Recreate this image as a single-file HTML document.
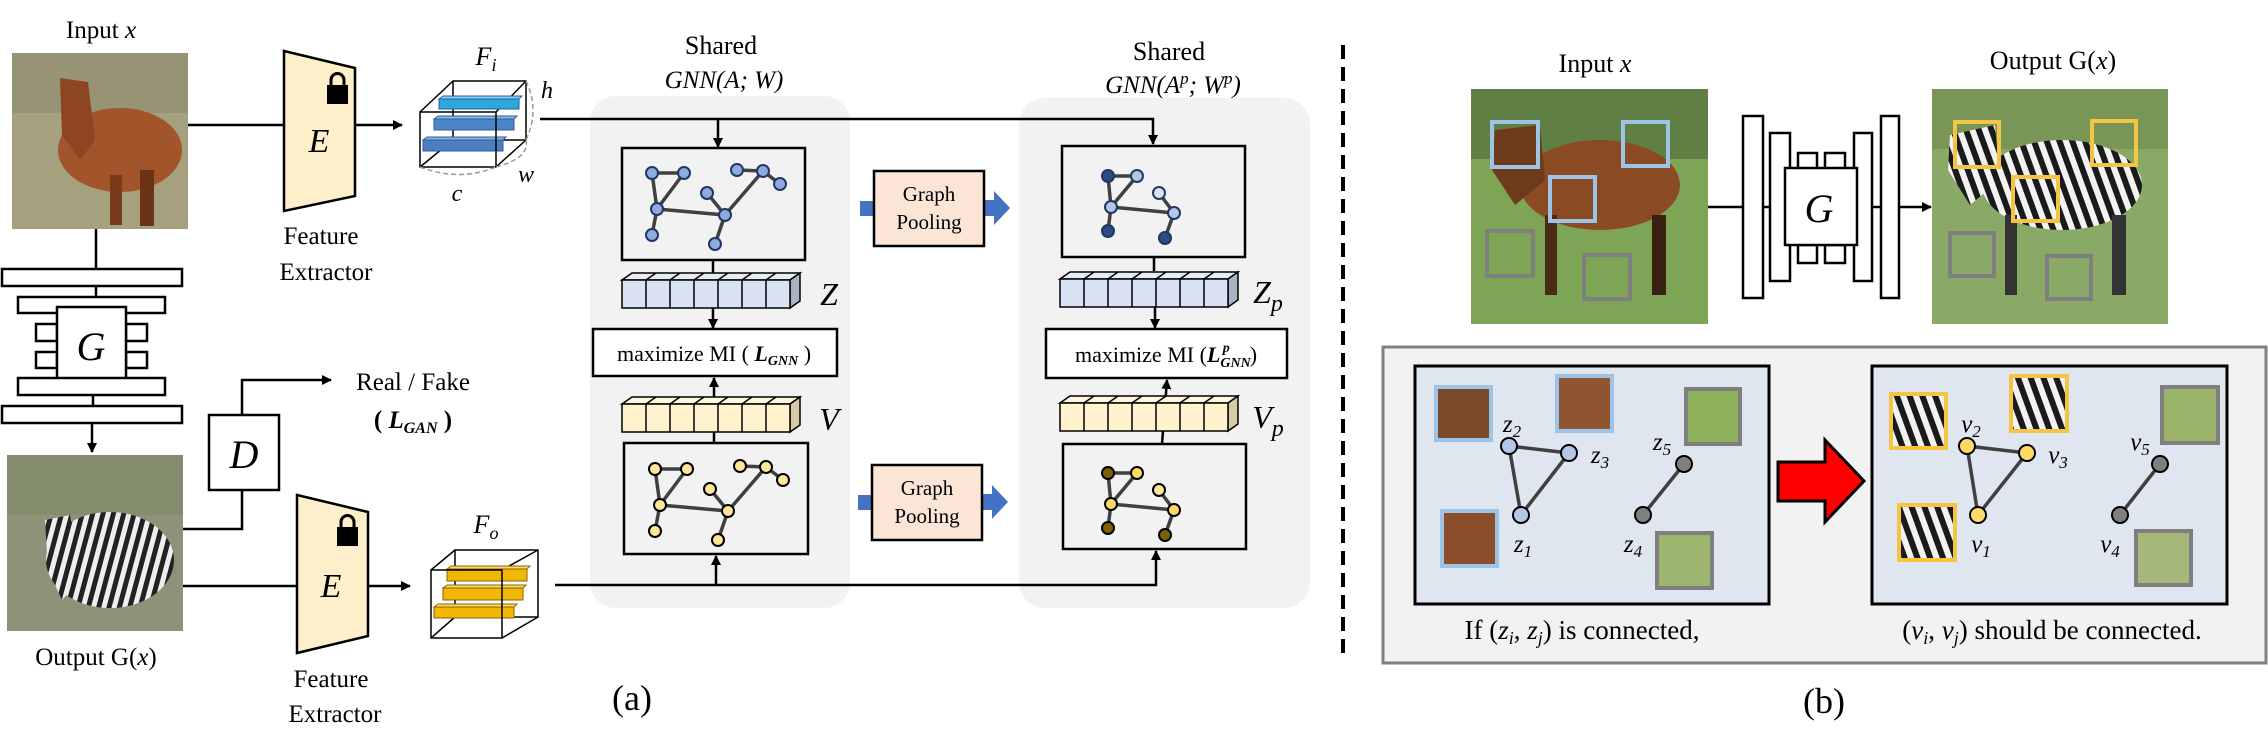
<!DOCTYPE html>
<html><head><meta charset="utf-8"><style>
html,body{margin:0;padding:0;background:#fff;}
svg{display:block;font-family:"Liberation Serif","DejaVu Serif",serif;}
svg text{font-family:"Liberation Serif","DejaVu Serif",serif;fill:#000;}
.it{font-style:italic;}
</style></head><body>
<svg width="2268" height="750" viewBox="0 0 2268 750" xmlns="http://www.w3.org/2000/svg">
<defs>
<marker id="ar" markerWidth="10" markerHeight="10" refX="9" refY="5" orient="auto" markerUnits="userSpaceOnUse"><path d="M0,0 L10,5 L0,10 z" fill="#000"/></marker>
<pattern id="zs" width="10" height="10" patternUnits="userSpaceOnUse" patternTransform="rotate(15)"><rect width="10" height="10" fill="#eee"/><rect width="5" height="10" fill="#222"/></pattern>
<pattern id="zs2" width="12" height="12" patternUnits="userSpaceOnUse" patternTransform="rotate(-20)"><rect width="12" height="12" fill="#f2f2f2"/><rect width="6" height="12" fill="#1a1a1a"/></pattern>
</defs>
<g>
<text x="101" y="38" font-size="25" text-anchor="middle">Input <tspan class="it">x</tspan></text>
<rect x="12" y="53" width="176" height="176" fill="#a5a07e"/>
<rect x="12" y="53" width="176" height="60" fill="#8c8c70" opacity="0.6"/>
<ellipse cx="120" cy="150" rx="62" ry="42" fill="#a2542a"/>
<path d="M60,78 L88,82 L95,140 L80,160 L62,135 Z" fill="#8e4522"/>
<rect x="140" y="170" width="14" height="56" fill="#6b3418"/>
<rect x="110" y="175" width="12" height="50" fill="#7a3a1c"/>

<line x1="96" y1="229" x2="96" y2="269" stroke="#000" stroke-width="2.5"/>
<g fill="#fff" stroke="#000" stroke-width="2.5">
<rect x="2" y="269" width="180" height="17"/>
<rect x="18" y="297" width="147" height="16"/>
<rect x="36" y="324" width="21" height="17"/><rect x="36" y="352" width="21" height="16"/>
<rect x="126" y="324" width="21" height="17"/><rect x="126" y="352" width="21" height="16"/>
<rect x="57" y="307" width="69" height="77"/>
<rect x="18" y="378" width="147" height="17"/>
<rect x="2" y="406" width="180" height="17"/>
</g>
<line x1="96" y1="286" x2="96" y2="297" stroke="#000" stroke-width="2.5"/>
<line x1="93" y1="395" x2="93" y2="406" stroke="#000" stroke-width="2.5"/>
<text x="91" y="360" font-size="40" class="it" text-anchor="middle">G</text>
<line x1="92" y1="423" x2="92" y2="452" stroke="#000" stroke-width="2.5" marker-end="url(#ar)"/>

<rect x="7" y="455" width="176" height="176" fill="#8e9278"/>
<rect x="7" y="455" width="176" height="60" fill="#7c8a66" opacity="0.6"/>
<ellipse cx="110" cy="560" rx="64" ry="48" fill="url(#zs)"/>
<path d="M45,520 L70,515 L80,580 L62,600 L48,570 Z" fill="url(#zs)"/>
<text x="96" y="665" font-size="25" text-anchor="middle">Output G(<tspan class="it">x</tspan>)</text>

<line x1="188" y1="125" x2="284" y2="125" stroke="#000" stroke-width="2.5"/>
<polygon points="284,51 355,68 355,196 284,211" fill="#fdefc9" stroke="#000" stroke-width="2.5"/>
<rect x="327" y="85" width="21" height="19" fill="#000"/><path d="M331,86 v-6 a6.5,6.5 0 0 1 13,0 v6" fill="none" stroke="#000" stroke-width="3"/>
<text x="319" y="152" font-size="34" class="it" text-anchor="middle">E</text>
<text x="321" y="244" font-size="25" text-anchor="middle">Feature</text>
<text x="326" y="280" font-size="25" text-anchor="middle">Extractor</text>
<line x1="355" y1="125" x2="402" y2="125" stroke="#000" stroke-width="2.5" marker-end="url(#ar)"/>

<g stroke="#000" stroke-width="1.5" fill="none">
<rect x="453" y="81" width="73" height="59"/>
<line x1="420" y1="112" x2="453" y2="81"/><line x1="496" y1="112" x2="526" y2="81"/><line x1="496" y1="167" x2="526" y2="140"/><line x1="420" y1="167" x2="453" y2="140"/>
</g>
<g stroke="#2e5e9e" stroke-width="1">
<rect x="439" y="99" width="80" height="10" fill="#2ea7e0"/><polygon points="439,99 443,96 522,96 519,99" fill="#7fd0f5"/>
<rect x="434" y="119" width="80" height="11" fill="#4a86c8"/><polygon points="434,119 438,116 517,116 514,119" fill="#8fb6e3"/>
<rect x="423" y="140" width="80" height="11" fill="#4a7fc0"/><polygon points="423,140 427,137 506,137 503,140" fill="#8fb0e0"/>
</g>
<rect x="420" y="112" width="76" height="55" fill="none" stroke="#000" stroke-width="1.5"/>
<path d="M420,167 Q460,182 496,167" fill="none" stroke="#999" stroke-width="1.5" stroke-dasharray="5,3"/>
<path d="M496,167 Q530,158 526,140" fill="none" stroke="#999" stroke-width="1.5" stroke-dasharray="5,3"/>
<path d="M526,81 Q540,110 526,140" fill="none" stroke="#999" stroke-width="1.5" stroke-dasharray="5,3"/>
<text x="486" y="65" font-size="26" class="it" text-anchor="middle">F<tspan font-size="18" dy="6">i</tspan></text>
<text x="547" y="98" font-size="24" class="it" text-anchor="middle">h</text>
<text x="526" y="182" font-size="24" class="it" text-anchor="middle">w</text>
<text x="457" y="201" font-size="24" class="it" text-anchor="middle">c</text>

<polyline points="183,529 242,529 242,490" fill="none" stroke="#000" stroke-width="2.5"/>
<rect x="209" y="415" width="70" height="75" fill="#fff" stroke="#000" stroke-width="2.5"/>
<text x="244" y="468" font-size="40" class="it" text-anchor="middle">D</text>
<polyline points="242,415 242,380 331,380" fill="none" stroke="#000" stroke-width="2.5" marker-end="url(#ar)"/>
<text x="413" y="390" font-size="25" text-anchor="middle">Real / Fake</text>
<text x="413" y="428" font-size="25" text-anchor="middle" font-weight="bold">( <tspan class="it">L</tspan><tspan class="it" font-size="16" dy="5">GAN</tspan><tspan dy="-5"> )</tspan></text>

<line x1="183" y1="586" x2="297" y2="586" stroke="#000" stroke-width="2.5"/>
<polygon points="297,495 368,512 368,636 297,653" fill="#fdefc9" stroke="#000" stroke-width="2.5"/>
<rect x="337" y="527" width="21" height="19" fill="#000"/><path d="M341,528 v-6 a6.5,6.5 0 0 1 13,0 v6" fill="none" stroke="#000" stroke-width="3"/>
<text x="331" y="597" font-size="34" class="it" text-anchor="middle">E</text>
<text x="331" y="687" font-size="25" text-anchor="middle">Feature</text>
<text x="335" y="722" font-size="25" text-anchor="middle">Extractor</text>
<line x1="368" y1="586" x2="410" y2="586" stroke="#000" stroke-width="2.5" marker-end="url(#ar)"/>

<g stroke="#000" stroke-width="1.5" fill="none">
<rect x="455" y="550" width="83" height="67"/>
<line x1="431" y1="570" x2="455" y2="550"/><line x1="502" y1="570" x2="538" y2="550"/><line x1="502" y1="638" x2="538" y2="617"/><line x1="431" y1="638" x2="455" y2="617"/>
</g>
<g stroke="#8a6500" stroke-width="1">
<rect x="447" y="569" width="80" height="12" fill="#f2b705"/><polygon points="447,569 451,566 530,566 527,569" fill="#ffd966"/>
<rect x="443" y="588" width="80" height="12" fill="#f2b705"/><polygon points="443,588 447,585 526,585 523,588" fill="#ffd966"/>
<rect x="434" y="607" width="80" height="11" fill="#f2b705"/><polygon points="434,607 438,604 517,604 514,607" fill="#ffd966"/>
</g>
<rect x="431" y="570" width="71" height="68" fill="none" stroke="#000" stroke-width="1.5"/>
<text x="486" y="533" font-size="26" class="it" text-anchor="middle">F<tspan font-size="18" dy="6">o</tspan></text>

<rect x="590" y="96" width="260" height="512" rx="26" fill="#f2f2f2"/>
<rect x="1019" y="98" width="291" height="510" rx="26" fill="#f2f2f2"/>
<text x="721" y="54" font-size="26" text-anchor="middle">Shared</text>
<text x="724" y="88" font-size="25" class="it" text-anchor="middle">GNN(A; W)</text>
<text x="1169" y="60" font-size="26" text-anchor="middle">Shared</text>
<text x="1173" y="93" font-size="25" class="it" text-anchor="middle">GNN(A<tspan font-size="17" dy="-9">p</tspan><tspan dy="9">; W</tspan><tspan font-size="17" dy="-9">p</tspan><tspan dy="9">)</tspan></text>

<polyline points="540,119 1153,119 1153,144" fill="none" stroke="#000" stroke-width="2.5" marker-end="url(#ar)"/>
<line x1="718" y1="119" x2="718" y2="147" stroke="#000" stroke-width="2.5" marker-end="url(#ar)"/>
<polyline points="555,585 1156,585 1156,551" fill="none" stroke="#000" stroke-width="2.5" marker-end="url(#ar)"/>
<line x1="716" y1="585" x2="716" y2="556" stroke="#000" stroke-width="2.5" marker-end="url(#ar)"/>

<g fill="#f2f2f2" stroke="#000" stroke-width="2.5">
<rect x="622" y="148" width="183" height="112"/>
<rect x="624" y="443" width="184" height="111"/>
<rect x="1062" y="146" width="183" height="111"/>
<rect x="1063" y="444" width="183" height="105"/>
</g>
<g id="g1">
<g stroke="#404040" stroke-width="3.5">
<line x1="652" y1="173" x2="684" y2="173"/><line x1="652" y1="173" x2="657" y2="209"/><line x1="684" y1="173" x2="657" y2="209"/>
<line x1="657" y1="209" x2="652" y2="235"/><line x1="657" y1="209" x2="725" y2="215"/><line x1="707" y1="193" x2="725" y2="215"/>
<line x1="725" y1="215" x2="715" y2="244"/><line x1="725" y1="215" x2="763" y2="171"/><line x1="737" y1="170" x2="763" y2="171"/><line x1="763" y1="171" x2="780" y2="184"/>
</g>
</g>
<g fill="#8faadc" stroke="#1f3864" stroke-width="2">
<circle cx="652" cy="173" r="6"/><circle cx="684" cy="173" r="6"/><circle cx="657" cy="209" r="6"/><circle cx="652" cy="235" r="6"/><circle cx="707" cy="193" r="6"/><circle cx="725" cy="215" r="6"/><circle cx="715" cy="244" r="6"/><circle cx="737" cy="170" r="6"/><circle cx="763" cy="171" r="6"/><circle cx="780" cy="184" r="6"/>
</g>
<g transform="translate(3,296)">
<use href="#g1"/>
<g fill="#ffe699" stroke="#000" stroke-width="2">
<circle cx="652" cy="173" r="6"/><circle cx="684" cy="173" r="6"/><circle cx="657" cy="209" r="6"/><circle cx="652" cy="235" r="6"/><circle cx="707" cy="193" r="6"/><circle cx="725" cy="215" r="6"/><circle cx="715" cy="244" r="6"/><circle cx="737" cy="170" r="6"/><circle cx="763" cy="171" r="6"/><circle cx="780" cy="184" r="6"/>
</g></g>
<g id="g3"><g stroke="#404040" stroke-width="3.5">
<line x1="1108" y1="176" x2="1137" y2="176"/><line x1="1108" y1="176" x2="1111" y2="207"/><line x1="1137" y1="176" x2="1111" y2="207"/>
<line x1="1111" y1="207" x2="1108" y2="231"/><line x1="1111" y1="207" x2="1174" y2="213"/><line x1="1159" y1="193" x2="1174" y2="213"/><line x1="1174" y1="213" x2="1165" y2="238"/>
</g></g>
<g stroke="#1f3864" stroke-width="2">
<circle cx="1108" cy="176" r="6" fill="#2f4b85"/><circle cx="1137" cy="176" r="6" fill="#b4c7e7"/><circle cx="1111" cy="207" r="6" fill="#b4c7e7"/><circle cx="1108" cy="231" r="6" fill="#2f4b85"/><circle cx="1159" cy="193" r="6" fill="#dae3f3"/><circle cx="1174" cy="213" r="6" fill="#b4c7e7"/><circle cx="1165" cy="238" r="6" fill="#2f4b85"/>
</g>
<g transform="translate(0,297)"><use href="#g3"/>
<g stroke="#000" stroke-width="2">
<circle cx="1108" cy="176" r="6" fill="#7f6000"/><circle cx="1137" cy="176" r="6" fill="#ffd966"/><circle cx="1111" cy="207" r="6" fill="#ffd966"/><circle cx="1108" cy="231" r="6" fill="#7f6000"/><circle cx="1159" cy="193" r="6" fill="#ffe699"/><circle cx="1174" cy="213" r="6" fill="#ffd966"/><circle cx="1165" cy="238" r="6" fill="#7f6000"/>
</g></g>

<g stroke="#000" stroke-width="2.5">
<line x1="713" y1="260" x2="713" y2="273"/>
<line x1="1154" y1="257" x2="1154" y2="271"/>
<line x1="714" y1="432" x2="714" y2="443"/>
</g>
<line x1="713" y1="300" x2="713" y2="328" stroke="#000" stroke-width="2.5" marker-end="url(#ar)"/>
<line x1="1155" y1="300" x2="1155" y2="328" stroke="#000" stroke-width="2.5" marker-end="url(#ar)"/>
<line x1="714" y1="404" x2="714" y2="378" stroke="#000" stroke-width="2.5" marker-end="url(#ar)"/>
<line x1="1162" y1="444" x2="1167" y2="380" stroke="#000" stroke-width="2.5" marker-end="url(#ar)"/>

<g id="zb" stroke="#000" stroke-width="1.5">
<polygon points="622,280 632,273 800,273 790,280" fill="#e6edf7"/>
<polygon points="790,280 800,273 800,301 790,308" fill="#aab4c4"/>
<rect x="622" y="280" width="168" height="28" fill="#dae3f3"/>
<path d="M646,280v28M670,280v28M694,280v28M718,280v28M742,280v28M766,280v28M656,273l-10,7M680,273l-10,7M704,273l-10,7M728,273l-10,7M752,273l-10,7M776,273l-10,7" fill="none"/>
</g>
<g id="vb" stroke="#000" stroke-width="1.5" transform="translate(0,124)">
<polygon points="622,280 632,273 800,273 790,280" fill="#fff7dd"/>
<polygon points="790,280 800,273 800,301 790,308" fill="#d6cba6"/>
<rect x="622" y="280" width="168" height="28" fill="#fff2cc"/>
<path d="M646,280v28M670,280v28M694,280v28M718,280v28M742,280v28M766,280v28M656,273l-10,7M680,273l-10,7M704,273l-10,7M728,273l-10,7M752,273l-10,7M776,273l-10,7" fill="none"/>
</g>
<use href="#zb" transform="translate(438,-1)"/>
<use href="#vb" transform="translate(438,-1)"/>
<text x="829" y="305" font-size="32" class="it" text-anchor="middle">Z</text>
<text x="829" y="430" font-size="32" class="it" text-anchor="middle">V</text>
<text x="1268" y="303" font-size="32" class="it" text-anchor="middle">Z<tspan font-size="24" dy="8">p</tspan></text>
<text x="1268" y="428" font-size="32" class="it" text-anchor="middle">V<tspan font-size="24" dy="8">p</tspan></text>

<rect x="593" y="329" width="244" height="47" fill="#fff" stroke="#000" stroke-width="2.5"/>
<text x="714" y="361" font-size="22" text-anchor="middle">maximize MI ( <tspan class="it" font-weight="bold">L</tspan><tspan class="it" font-weight="bold" font-size="14" dy="4">GNN</tspan><tspan dy="-4"> )</tspan></text>
<rect x="1046" y="329" width="241" height="49" fill="#fff" stroke="#000" stroke-width="2.5"/>
<text x="1166" y="362" font-size="22" text-anchor="middle">maximize MI (<tspan class="it" font-weight="bold">L</tspan><tspan class="it" font-weight="bold" font-size="14" dy="5">GNN</tspan><tspan class="it" font-weight="bold" font-size="14" dx="-28" dy="-15">p</tspan><tspan dx="20" dy="10">)</tspan></text>

<g id="gp">
<polygon points="860,201 874,201 874,216 860,216" fill="#4472c4"/>
<polygon points="984,200 994,200 994,191 1010,208 994,225 994,216 984,216" fill="#4472c4"/>
<rect x="874" y="171" width="110" height="75" fill="#fbe5d6" stroke="#000" stroke-width="2.5"/>
<text x="929" y="201" font-size="21" text-anchor="middle">Graph</text>
<text x="929" y="229" font-size="21" text-anchor="middle">Pooling</text>
</g>
<use href="#gp" transform="translate(-2,294)"/>

<text x="632" y="710" font-size="36" text-anchor="middle">(a)</text>

<line x1="1343" y1="45" x2="1343" y2="653" stroke="#000" stroke-width="4" stroke-dasharray="14,8"/>
<text x="1595" y="72" font-size="26" text-anchor="middle">Input <tspan class="it">x</tspan></text>
<text x="2053" y="69" font-size="26" text-anchor="middle">Output G(<tspan class="it">x</tspan>)</text>
<rect x="1471" y="89" width="237" height="235" fill="#7ea456"/>
<rect x="1471" y="89" width="237" height="70" fill="#5f7f44"/>
<ellipse cx="1600" cy="185" rx="80" ry="45" fill="#8a4b24"/>
<path d="M1495,130 L1540,125 L1545,180 L1515,205 L1492,170 Z" fill="#6e3a1c"/>
<rect x="1545" y="215" width="12" height="80" fill="#4a2a14"/><rect x="1652" y="215" width="14" height="80" fill="#3a2010"/>
<g fill="none" stroke-width="4">
<rect x="1492" y="122" width="46" height="45" stroke="#9dc3e6"/>
<rect x="1623" y="122" width="45" height="44" stroke="#9dc3e6"/>
<rect x="1550" y="177" width="45" height="44" stroke="#9dc3e6"/>
<rect x="1487" y="231" width="46" height="45" stroke="#7f7f7f"/>
<rect x="1584" y="255" width="46" height="44" stroke="#7f7f7f"/>
</g>

<line x1="1708" y1="207" x2="1743" y2="207" stroke="#000" stroke-width="2.5"/>
<g fill="#fff" stroke="#000" stroke-width="2.5">
<rect x="1743" y="116" width="20" height="182"/>
<rect x="1770" y="133" width="20" height="148"/>
<rect x="1881" y="116" width="18" height="182"/>
<rect x="1854" y="133" width="18" height="148"/>
<rect x="1798" y="153" width="19" height="16"/><rect x="1825" y="153" width="20" height="16"/>
<rect x="1798" y="245" width="19" height="18"/><rect x="1825" y="245" width="20" height="18"/>
<rect x="1785" y="168" width="72" height="77"/>
</g>
<line x1="1763" y1="207" x2="1770" y2="207" stroke="#000" stroke-width="2.5"/>
<line x1="1872" y1="207" x2="1881" y2="207" stroke="#000" stroke-width="2.5"/>
<text x="1819" y="222" font-size="40" class="it" text-anchor="middle">G</text>
<line x1="1899" y1="207" x2="1931" y2="207" stroke="#000" stroke-width="2.5" marker-end="url(#ar)"/>

<rect x="1932" y="89" width="236" height="235" fill="#8aa866"/>
<rect x="1932" y="89" width="236" height="60" fill="#7a9656"/>
<ellipse cx="2062" cy="185" rx="80" ry="45" fill="url(#zs2)"/>
<path d="M1950,135 L1995,125 L2000,180 L1970,205 L1948,170 Z" fill="url(#zs2)"/>
<rect x="2005" y="215" width="12" height="80" fill="#333"/><rect x="2112" y="215" width="14" height="80" fill="#333"/>
<g fill="none" stroke-width="4">
<rect x="1955" y="122" width="44" height="45" stroke="#f4c542"/>
<rect x="2092" y="121" width="44" height="44" stroke="#f4c542"/>
<rect x="2013" y="177" width="45" height="44" stroke="#f4c542"/>
<rect x="1950" y="233" width="44" height="43" stroke="#7f7f7f"/>
<rect x="2047" y="256" width="44" height="43" stroke="#7f7f7f"/>
</g>

<rect x="1383" y="347" width="883" height="316" fill="#f2f2f2" stroke="#808080" stroke-width="3"/>
<rect x="1415" y="366" width="354" height="238" fill="#dfe6f0" stroke="#000" stroke-width="3"/>
<rect x="1872" y="366" width="355" height="238" fill="#dfe6f0" stroke="#000" stroke-width="3"/>
<polygon points="1778,462 1825,462 1825,440 1864,481 1825,522 1825,501 1778,501" fill="#ff0000" stroke="#000" stroke-width="3"/>

<rect x="1436" y="387" width="55" height="53" fill="#7a4a2a" stroke="#9dc3e6" stroke-width="4"/>
<rect x="1557" y="376" width="55" height="55" fill="#8e5530" stroke="#9dc3e6" stroke-width="4"/>
<rect x="1442" y="511" width="55" height="55" fill="#8a4e2a" stroke="#9dc3e6" stroke-width="4"/>
<rect x="1686" y="389" width="54" height="55" fill="#8fb05a" stroke="#7f7f7f" stroke-width="4"/>
<rect x="1657" y="533" width="55" height="55" fill="#9cb56e" stroke="#7f7f7f" stroke-width="4"/>
<g stroke="#404040" stroke-width="3.5">
<line x1="1509" y1="446" x2="1569" y2="453"/><line x1="1509" y1="446" x2="1521" y2="515"/><line x1="1569" y1="453" x2="1521" y2="515"/><line x1="1684" y1="464" x2="1643" y2="515"/>
</g>
<g stroke="#000" stroke-width="2">
<circle cx="1509" cy="446" r="8" fill="#b4c7e7"/><circle cx="1569" cy="453" r="8" fill="#b4c7e7"/><circle cx="1521" cy="515" r="8" fill="#b4c7e7"/><circle cx="1684" cy="464" r="8" fill="#7f7f7f"/><circle cx="1643" cy="515" r="8" fill="#7f7f7f"/>
</g>
<g font-size="25" text-anchor="middle">
<text x="1512" y="432" class="it">z<tspan font-size="17" dy="5">2</tspan></text>
<text x="1600" y="463" class="it">z<tspan font-size="17" dy="5">3</tspan></text>
<text x="1523" y="552" class="it">z<tspan font-size="17" dy="5">1</tspan></text>
<text x="1662" y="450" class="it">z<tspan font-size="17" dy="5">5</tspan></text>
<text x="1633" y="552" class="it">z<tspan font-size="17" dy="5">4</tspan></text>
</g>
<rect x="1891" y="394" width="55" height="54" fill="url(#zs2)" stroke="#f4c542" stroke-width="4"/>
<rect x="2011" y="376" width="56" height="55" fill="url(#zs2)" stroke="#f4c542" stroke-width="4"/>
<rect x="1899" y="505" width="56" height="55" fill="url(#zs2)" stroke="#f4c542" stroke-width="4"/>
<rect x="2162" y="387" width="56" height="56" fill="#9ab36a" stroke="#7f7f7f" stroke-width="4"/>
<rect x="2136" y="531" width="55" height="54" fill="#a4b87a" stroke="#7f7f7f" stroke-width="4"/>
<g stroke="#404040" stroke-width="3.5">
<line x1="1967" y1="446" x2="2027" y2="453"/><line x1="1967" y1="446" x2="1978" y2="515"/><line x1="2027" y1="453" x2="1978" y2="515"/><line x1="2160" y1="464" x2="2120" y2="515"/>
</g>
<g stroke="#000" stroke-width="2">
<circle cx="1967" cy="446" r="8" fill="#ffd966"/><circle cx="2027" cy="453" r="8" fill="#ffd966"/><circle cx="1978" cy="515" r="8" fill="#ffd966"/><circle cx="2160" cy="464" r="8" fill="#7f7f7f"/><circle cx="2120" cy="515" r="8" fill="#7f7f7f"/>
</g>
<g font-size="25" text-anchor="middle">
<text x="1971" y="432" class="it">v<tspan font-size="17" dy="5">2</tspan></text>
<text x="2058" y="463" class="it">v<tspan font-size="17" dy="5">3</tspan></text>
<text x="1981" y="552" class="it">v<tspan font-size="17" dy="5">1</tspan></text>
<text x="2140" y="450" class="it">v<tspan font-size="17" dy="5">5</tspan></text>
<text x="2110" y="552" class="it">v<tspan font-size="17" dy="5">4</tspan></text>
</g>
<text x="1582" y="639" font-size="27" text-anchor="middle">If (<tspan class="it">z</tspan><tspan class="it" font-size="18" dy="5">i</tspan><tspan dy="-5">, </tspan><tspan class="it">z</tspan><tspan class="it" font-size="18" dy="5">j</tspan><tspan dy="-5">) is connected,</tspan></text>
<text x="2052" y="639" font-size="27" text-anchor="middle">(<tspan class="it">v</tspan><tspan class="it" font-size="18" dy="5">i</tspan><tspan dy="-5">, </tspan><tspan class="it">v</tspan><tspan class="it" font-size="18" dy="5">j</tspan><tspan dy="-5">) should be connected.</tspan></text>
<text x="1824" y="713" font-size="36" text-anchor="middle">(b)</text>
</g>
</svg>
</body></html>
